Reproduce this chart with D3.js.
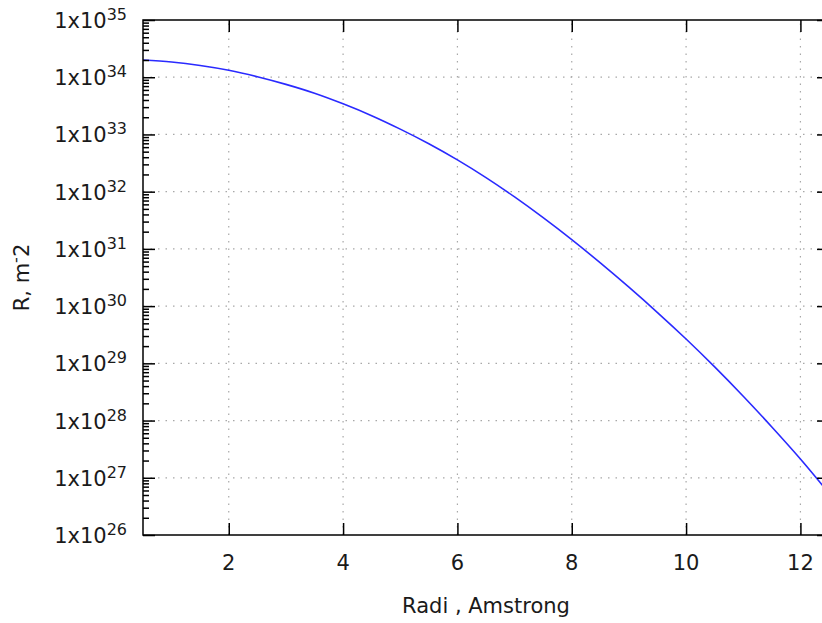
<!DOCTYPE html>
<html>
<head>
<meta charset="utf-8">
<script src="https://cdn.jsdelivr.net/npm/d3@7"></script>
<style>
  html, body { margin: 0; padding: 0; background: #fff; }
  svg { display: block; font-family: "DejaVu Sans", sans-serif; }
</style>
</head>
<body>
<svg id="chart" width="822" height="623"></svg>
<script>
// Radius (Angstrom) and R (m^-2)
const radius = [0.5, 1, 1.5, 2, 2.5, 3, 3.5, 4, 4.5, 5, 5.5, 6, 6.5, 7, 7.5, 8,
                8.5, 9, 9.5, 10, 10.5, 11, 11.5, 12, 12.5];
const rValues = [2.00e34, 1.84e34, 1.60e34, 1.32e34, 1.02e34, 7.50e33, 5.25e33, 3.43e33,
                 2.13e33, 1.24e33, 6.88e32, 3.59e32, 1.76e32, 8.08e31, 3.51e31, 1.45e31,
                 5.69e30, 2.14e30, 7.72e29, 2.66e29, 8.66e28, 2.66e28, 7.72e27, 2.13e27, 5.37e26];
const xTicks = [2, 4, 6, 8, 10, 12];
const yExponents = [26, 27, 28, 29, 30, 31, 32, 33, 34, 35];
const xLabel = "Radi , Amstrong";

const svg = d3.select("#chart");
const plotL = 143, plotR = 829, plotT = 20, plotB = 535;

const x = d3.scaleLinear().domain([0.5, 12.5]).range([plotL, plotR]);
const y = d3.scaleLog().domain([1e26, 1e35]).range([plotB, plotT]);

const decades = yExponents.map(e => Math.pow(10, e));
const minors = [];
yExponents.slice(0, -1).forEach(e => {
  for (let k = 2; k <= 9; k++) minors.push(k * Math.pow(10, e));
});

// dotted grid
const grid = svg.append("g")
  .attr("stroke", "#a8a8a8").attr("stroke-width", 1.2)
  .attr("stroke-dasharray", "1.5,6");
grid.selectAll("line.gx").data(xTicks).join("line")
  .attr("x1", d => x(d)).attr("x2", d => x(d))
  .attr("y1", plotB).attr("y2", plotT);
grid.selectAll("line.gy").data(decades.slice(1, -1)).join("line")
  .attr("x1", plotL).attr("x2", plotR)
  .attr("y1", d => y(d)).attr("y2", d => y(d));

// curve
svg.append("defs").append("clipPath").attr("id", "plotClip")
  .append("rect").attr("x", plotL).attr("y", plotT)
  .attr("width", plotR - plotL).attr("height", plotB - plotT);

const line = d3.line()
  .x((d, i) => x(radius[i]))
  .y(d => y(d))
  .curve(d3.curveCatmullRom.alpha(0.5));

svg.append("path")
  .datum(rValues)
  .attr("clip-path", "url(#plotClip)")
  .attr("fill", "none")
  .attr("stroke", "#2a2aff")
  .attr("stroke-width", 1.6)
  .attr("d", line);

// axes: ticks pointing inward, labels drawn separately
function styleAxis(g) {
  g.select(".domain").remove();
  g.selectAll("text").remove();
  g.selectAll("line").attr("stroke", "#000").attr("stroke-width", 1.5);
}
svg.append("g").attr("transform", `translate(${plotL},0)`)
  .call(d3.axisLeft(y).tickValues(decades).tickSize(-12)).call(styleAxis);
svg.append("g").attr("transform", `translate(${plotL},0)`)
  .call(d3.axisLeft(y).tickValues(minors).tickSize(-6)).call(styleAxis);
svg.append("g").attr("transform", `translate(${plotR},0)`)
  .call(d3.axisRight(y).tickValues(decades).tickSize(-12)).call(styleAxis);
svg.append("g").attr("transform", `translate(${plotR},0)`)
  .call(d3.axisRight(y).tickValues(minors).tickSize(-6)).call(styleAxis);
svg.append("g").attr("transform", `translate(0,${plotB})`)
  .call(d3.axisBottom(x).tickValues(xTicks).tickSize(-12)).call(styleAxis);
svg.append("g").attr("transform", `translate(0,${plotT})`)
  .call(d3.axisTop(x).tickValues(xTicks).tickSize(-12)).call(styleAxis);

// border
svg.append("rect")
  .attr("x", plotL).attr("y", plotT)
  .attr("width", plotR - plotL).attr("height", plotB - plotT)
  .attr("fill", "none").attr("stroke", "#000").attr("stroke-width", 1.5);

// y tick labels 1x10^n
const yl = svg.append("g").attr("fill", "#1a1a1a");
yExponents.forEach(e => {
  const t = yl.append("text")
    .attr("x", 127).attr("y", y(Math.pow(10, e)) + 8)
    .attr("text-anchor", "end").attr("font-size", 21);
  t.append("tspan").text("1x10");
  t.append("tspan").attr("dy", -8).attr("font-size", 16).text(e);
});

// x tick labels
svg.append("g").attr("fill", "#1a1a1a")
  .selectAll("text").data(xTicks).join("text")
  .attr("x", d => x(d)).attr("y", 570)
  .attr("text-anchor", "middle").attr("font-size", 21)
  .text(d => d);

// axis titles
svg.append("text")
  .attr("x", (plotL + plotR) / 2).attr("y", 613)
  .attr("text-anchor", "middle").attr("font-size", 21).attr("fill", "#1a1a1a")
  .text(xLabel);

const yt = svg.append("text")
  .attr("transform", `translate(29,${(plotT + plotB) / 2}) rotate(-90)`)
  .attr("text-anchor", "middle").attr("font-size", 21).attr("fill", "#1a1a1a");
yt.append("tspan").text("R, m");
yt.append("tspan").attr("dy", -8).attr("font-size", 16).text("-");
yt.append("tspan").attr("dy", 8).text("2");
</script>
</body>
</html>
